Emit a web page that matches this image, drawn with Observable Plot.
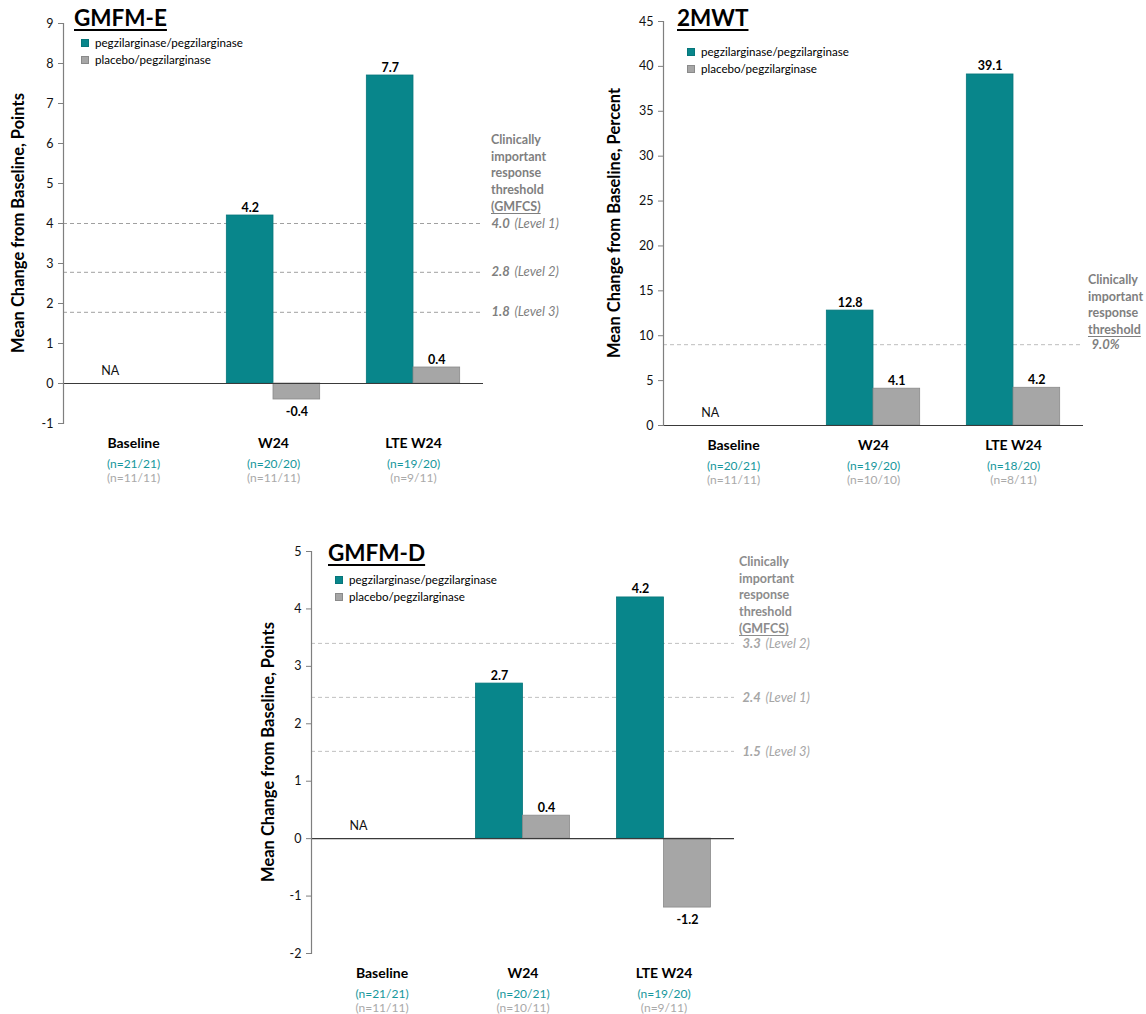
<!DOCTYPE html>
<html><head><meta charset="utf-8">
<script src="https://cdn.jsdelivr.net/npm/d3@7"></script>
<script src="https://cdn.jsdelivr.net/npm/@observablehq/plot@0.6"></script>
<style>
body{margin:0;background:#fff;font-family:Lato,"Open Sans",sans-serif;}
#root{position:relative;width:1146px;height:1014px;overflow:hidden;background:#fff;}
.panel{position:absolute;}
.abs{position:absolute;white-space:nowrap;}
.title{font-weight:700;font-size:22.5px;line-height:22px;text-decoration:underline;text-decoration-thickness:2px;text-underline-offset:3px;color:#000;}
.leg{font-size:11.6px;line-height:14px;color:#000;display:flex;align-items:center;}
.sw{width:6px;height:6px;margin-right:6px;border:1px solid;}
.ytitle{font-weight:700;font-size:16.5px;line-height:17px;color:#000;transform:translate(-50%,-50%) rotate(-90deg);}
.thr{font-weight:700;font-size:12.5px;line-height:16.7px;}
.thr u{text-underline-offset:2px;}
</style></head><body><div id="root"></div>
<script>
// ---------- data ----------
const categories = ["Baseline", "W24", "LTE W24"];
const seriesNames = ["pegzilarginase/pegzilarginase", "placebo/pegzilarginase"];

// GMFM-E
const gmfmE_peg = [null, 4.2, 7.7];
const gmfmE_pla = [null, -0.4, 0.4];
const gmfmE_nPeg = ["(n=21/21)", "(n=20/20)", "(n=19/20)"];
const gmfmE_nPla = ["(n=11/11)", "(n=11/11)", "(n=9/11)"];
const gmfmE_thr = [4.0, 2.78, 1.78];            // line positions as drawn
const gmfmE_thrLabel = ["4.0", "2.8", "1.8"];
const gmfmE_thrLevel = ["(Level 1)", "(Level 2)", "(Level 3)"];
const gmfmE_yTicks = [-1, 0, 1, 2, 3, 4, 5, 6, 7, 8, 9];

// 2MWT
const mwt_peg = [null, 12.8, 39.1];
const mwt_pla = [null, 4.1, 4.2];
const mwt_nPeg = ["(n=20/21)", "(n=19/20)", "(n=18/20)"];
const mwt_nPla = ["(n=11/11)", "(n=10/10)", "(n=8/11)"];
const mwt_thr = [9.0];
const mwt_thrLabel = ["9.0%"];
const mwt_thrLevel = [""];
const mwt_yTicks = [0, 5, 10, 15, 20, 25, 30, 35, 40, 45];

// GMFM-D
const gmfmD_peg = [null, 2.7, 4.2];
const gmfmD_pla = [null, 0.4, -1.2];
const gmfmD_nPeg = ["(n=21/21)", "(n=20/21)", "(n=19/20)"];
const gmfmD_nPla = ["(n=11/11)", "(n=10/11)", "(n=9/11)"];
const gmfmD_thr = [3.4, 2.46, 1.52];            // line positions as drawn
const gmfmD_thrLabel = ["3.3", "2.4", "1.5"];
const gmfmD_thrLevel = ["(Level 2)", "(Level 1)", "(Level 3)"];
const gmfmD_yTicks = [-2, -1, 0, 1, 2, 3, 4, 5];

// ---------- styles ----------
const TEAL = "#08868b", TEAL_EDGE = "#06767a";
const GRAY = "#a6a6a6", GRAY_EDGE = "#8a8a8a";
const N_TEAL = "#16979c", N_GRAY = "#a9a9a9";

const root = document.getElementById("root");

function addHTML(html, style, cls) {
  const d = document.createElement("div");
  d.className = "abs " + (cls || "");
  Object.assign(d.style, style);
  d.innerHTML = html;
  root.appendChild(d);
  return d;
}

function panel(cfg) {
  const {left, top, width, height, mL, mR, mT, mB, yDomain, yTicks, peg, pla, nPeg, nPla,
         thr, thrLabel, thrLevel, thrStroke, thrColor, levelDx} = cfg;
  const rows = [];
  categories.forEach((c, i) => {
    if (peg[i] != null) rows.push({cat: c, s: seriesNames[0], v: peg[i]});
    if (pla[i] != null) rows.push({cat: c, s: seriesNames[1], v: pla[i]});
  });
  const pegRows = rows.filter(d => d.s === seriesNames[0]);
  const plaRows = rows.filter(d => d.s === seriesNames[1]);
  const naRows = categories.filter((c, i) => peg[i] == null && pla[i] == null).map(c => ({cat: c}));
  const bw = (width - mL - mR) / categories.length;
  const off = bw / 6;
  const fmt = v => v.toFixed(1);
  const labelStyle = {fontWeight: "bold", fontSize: 12.5, fill: "#000"};

  const chart = Plot.plot({
    width, height, marginLeft: mL, marginRight: mR, marginTop: mT, marginBottom: mB,
    style: {fontFamily: "Lato, 'Open Sans', sans-serif", background: "transparent", overflow: "visible"},
    x: {type: "band", domain: categories, padding: 0, axis: null},
    y: {domain: yDomain, axis: null},
    marks: [
      Plot.ruleY(thr, {stroke: thrStroke, strokeDasharray: "4,3", strokeWidth: 1}),
      Plot.barY(pegRows, {x: "cat", y: "v", fill: TEAL, stroke: TEAL_EDGE, strokeWidth: 0.8, insetLeft: off, insetRight: bw / 2}),
      Plot.barY(plaRows, {x: "cat", y: "v", fill: GRAY, stroke: GRAY_EDGE, strokeWidth: 0.8, insetLeft: bw / 2, insetRight: off}),
      Plot.ruleY([0], {stroke: "#3a3a3a", strokeWidth: 1.2}),
      Plot.frame({anchor: "left", stroke: "#7f7f7f", strokeWidth: 1.2}),
      Plot.axisY({ticks: yTicks, tickFormat: d => String(d), tickSize: 5, tickPadding: 5, fontSize: 12.5, label: null, stroke: "#7f7f7f", fill: "#111"}),
      Plot.text(pegRows.filter(d => d.v >= 0), {x: "cat", y: "v", text: d => fmt(d.v), dx: -off, dy: -8, ...labelStyle}),
      Plot.text(pegRows.filter(d => d.v < 0), {x: "cat", y: "v", text: d => fmt(d.v), dx: -off, dy: 12, ...labelStyle}),
      Plot.text(plaRows.filter(d => d.v >= 0), {x: "cat", y: "v", text: d => fmt(d.v), dx: off, dy: -8, ...labelStyle}),
      Plot.text(plaRows.filter(d => d.v < 0), {x: "cat", y: "v", text: d => fmt(d.v), dx: off, dy: 12, ...labelStyle}),
      Plot.text(naRows, {x: "cat", y: () => 0, text: () => "NA", dx: -off, dy: -13, fontSize: 12.5, fill: "#111"}),
      Plot.text(categories, {x: d => d, frameAnchor: "bottom", dy: 24, fontWeight: "bold", fontSize: 14, fill: "#000"}),
      Plot.text(categories, {x: d => d, text: (d, i) => nPeg[i], frameAnchor: "bottom", dy: 44, fontSize: 12, fill: N_TEAL}),
      Plot.text(categories, {x: d => d, text: (d, i) => nPla[i], frameAnchor: "bottom", dy: 58, fontSize: 12, fill: N_GRAY}),
      Plot.text(thr, {y: d => d, text: (d, i) => thrLabel[i], frameAnchor: "right", textAnchor: "start", dx: 8, fontWeight: "bold", fontStyle: "italic", fontSize: 13, fill: thrColor}),
      Plot.text(thr, {y: d => d, text: (d, i) => thrLevel[i], frameAnchor: "right", textAnchor: "start", dx: levelDx, fontStyle: "italic", fontSize: 13, fill: thrColor})
    ]
  });
  const wrap = document.createElement("div");
  wrap.className = "panel";
  wrap.style.left = left + "px";
  wrap.style.top = top + "px";
  wrap.appendChild(chart);
  root.appendChild(wrap);
}

function legend(x, y) {
  const cols = [[TEAL, TEAL_EDGE], [GRAY, GRAY_EDGE]];
  seriesNames.forEach((s, i) => {
    addHTML(`<span class="sw" style="background:${cols[i][0]};border-color:${cols[i][1]}"></span>${s}`,
      {left: x + "px", top: (y + i * 17 - 7) + "px"}, "leg");
  });
}

// ---------- GMFM-E ----------
panel({left: 0, top: 0, width: 560, height: 500, mL: 63, mR: 77, mT: 23, mB: 77,
  yDomain: [-1, 9], yTicks: gmfmE_yTicks, peg: gmfmE_peg, pla: gmfmE_pla, nPeg: gmfmE_nPeg, nPla: gmfmE_nPla,
  thr: gmfmE_thr, thrLabel: gmfmE_thrLabel, thrLevel: gmfmE_thrLevel, thrStroke: "#a0a0a0", thrColor: "#7f7f7f", levelDx: 31});
addHTML("GMFM-E", {left: "74px", top: "7px"}, "title");
legend(81, 43);
addHTML("Mean Change from Baseline, Points", {left: "18px", top: "223px"}, "ytitle");
addHTML("Clinically<br>important<br>response<br>threshold<br><u>(GMFCS)</u>", {left: "491px", top: "132px", color: "#7f7f7f"}, "thr");

// ---------- 2MWT ----------
panel({left: 600, top: 0, width: 546, height: 500, mL: 63, mR: 63, mT: 21, mB: 75,
  yDomain: [0, 45], yTicks: mwt_yTicks, peg: mwt_peg, pla: mwt_pla, nPeg: mwt_nPeg, nPla: mwt_nPla,
  thr: mwt_thr, thrLabel: mwt_thrLabel, thrLevel: mwt_thrLevel, thrStroke: "#bdbdbd", thrColor: "#7f7f7f", levelDx: 40});
addHTML("2MWT", {left: "677px", top: "7px"}, "title");
legend(687, 52);
addHTML("Mean Change from Baseline, Percent", {left: "614px", top: "223px"}, "ytitle");
addHTML("Clinically<br>important<br>response<br><u>threshold</u>", {left: "1088px", top: "272px", color: "#7f7f7f"}, "thr");

// ---------- GMFM-D ----------
panel({left: 250, top: 530, width: 574, height: 484, mL: 61, mR: 90, mT: 21, mB: 61,
  yDomain: [-2, 5], yTicks: gmfmD_yTicks, peg: gmfmD_peg, pla: gmfmD_pla, nPeg: gmfmD_nPeg, nPla: gmfmD_nPla,
  thr: gmfmD_thr, thrLabel: gmfmD_thrLabel, thrLevel: gmfmD_thrLevel, thrStroke: "#c0c0c0", thrColor: "#a6a6a6", levelDx: 31});
addHTML("GMFM-D", {left: "328px", top: "542px"}, "title");
legend(335, 580);
addHTML("Mean Change from Baseline, Points", {left: "268px", top: "752px"}, "ytitle");
addHTML("Clinically<br>important<br>response<br>threshold<br><u>(GMFCS)</u>", {left: "739px", top: "554px", color: "#8c8c8c"}, "thr");
</script></body></html>
